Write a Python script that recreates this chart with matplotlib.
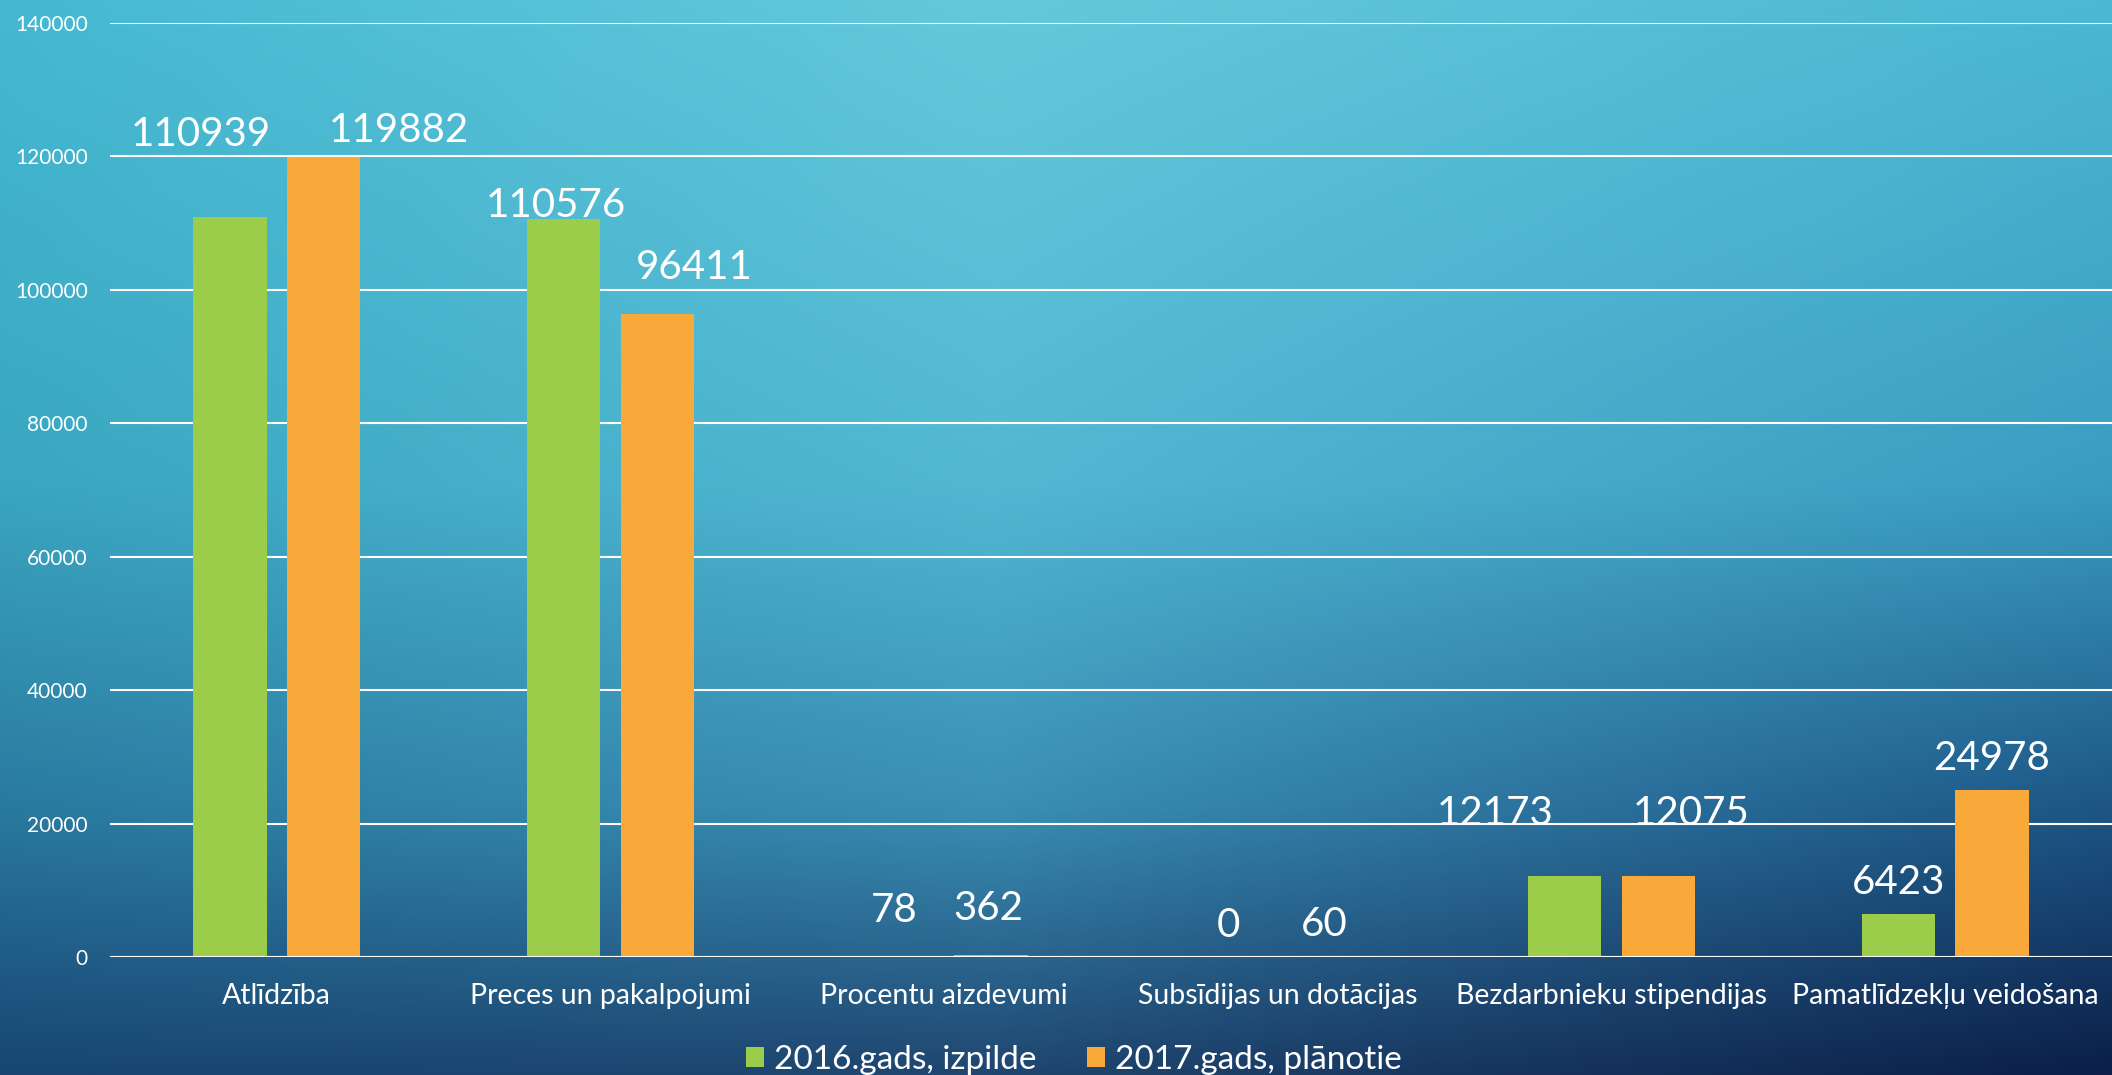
import numpy as np
import matplotlib
matplotlib.use("Agg")
import matplotlib.pyplot as plt
from matplotlib.colors import to_rgb

plt.rcParams['font.family'] = ['Lato', 'DejaVu Sans']

categories = ["Atlīdzība", "Preces un pakalpojumi", "Procentu aizdevumi",
              "Subsīdijas un dotācijas", "Bezdarbnieku stipendijas",
              "Pamatlīdzekļu veidošana"]
izpilde_2016 = [110939, 110576, 78, 0, 12173, 6423]
planotie_2017 = [119882, 96411, 362, 60, 12075, 24978]
series_names = ["2016.gads, izpilde", "2017.gads, plānotie"]
yticks = [0, 20000, 40000, 60000, 80000, 100000, 120000, 140000]

# label offsets (points) relative to bar top, as placed in the reference
off_2016 = [(-21, 59), (-6, 10), (-2, 33), (-2, 23), (-50, 45), (0, 23)]
off_2017 = [(54, 19), (27, 33), (-2, 33), (0, 23), (24, 45), (0, 23)]

green = "#9BCD4B"
orange = "#F9A83A"

fig = plt.figure(figsize=(21.12, 10.75), dpi=100)

# background gradient
rows = [
    ["#45b9d2", "#64c9dc", "#4cb8d2"],
    ["#3aa6c0", "#52b8d2", "#3a9cc2"],
    ["#2a7aa0", "#3a8fb5", "#1d5686"],
    ["#174672", "#1f4670", "#0b1f48"],
]
ry = np.array([0.0, 0.45, 0.75, 1.0])
rx = np.array([0.0, 0.47, 1.0])
grid = np.array([[to_rgb(c) for c in r] for r in rows])
H, W = 215, 422
ys = np.linspace(0, 1, H)
xs = np.linspace(0, 1, W)
tmp = np.stack([np.stack([np.interp(xs, rx, grid[i, :, k]) for k in range(3)], -1)
                for i in range(len(ry))])
img = np.stack([np.stack([np.interp(ys, ry, tmp[:, j, k]) for k in range(3)], -1)
                for j in range(W)], 1)
bg = fig.add_axes([0, 0, 1, 1])
bg.imshow(img, aspect='auto', extent=[0, 1, 1, 0], interpolation='bilinear')
bg.axis('off')

ax = fig.add_axes([110 / 2112, 1 - 957 / 1075, 1 - 110 / 2112, (957 - 23) / 1075])
ax.patch.set_alpha(0)
x = np.arange(len(categories))
w = 0.22
b1 = ax.bar(x - 0.14, izpilde_2016, w, color=green, label=series_names[0], zorder=3)
b2 = ax.bar(x + 0.14, planotie_2017, w, color=orange, label=series_names[1], zorder=3)

for bars, vals, offs in [(b1, izpilde_2016, off_2016), (b2, planotie_2017, off_2017)]:
    for r, v, o in zip(bars, vals, offs):
        ax.annotate(str(v), (r.get_x() + r.get_width() / 2, v), xytext=o,
                    textcoords='offset points', ha='center', va='center',
                    color='white', fontsize=29, zorder=4)

ax.set_xlim(-0.5, len(categories) - 0.5)
ax.set_ylim(0, 140000)
ax.set_yticks(yticks)
ax.set_yticklabels([str(t) for t in yticks])
ax.set_xticks(x)
ax.set_xticklabels(categories)
ax.tick_params(axis='y', length=0, pad=16, labelsize=15, labelcolor='white')
ax.tick_params(axis='x', length=0, pad=19, labelsize=20.5, labelcolor='white')
ax.grid(axis='y', color='white', linewidth=1.5, zorder=1)
for s in ax.spines.values():
    s.set_visible(False)
ax.axhline(0, color='white', linewidth=2.2, zorder=4)

fig.legend(loc='center', bbox_to_anchor=(0.5085, 1 - 1060 / 1075), ncol=2,
           frameon=False, fontsize=24, labelcolor='white', handlelength=0.55,
           handleheight=0.55, handletextpad=0.3, columnspacing=1.5,
           borderpad=0)

fig.savefig("out.png", dpi=100)
